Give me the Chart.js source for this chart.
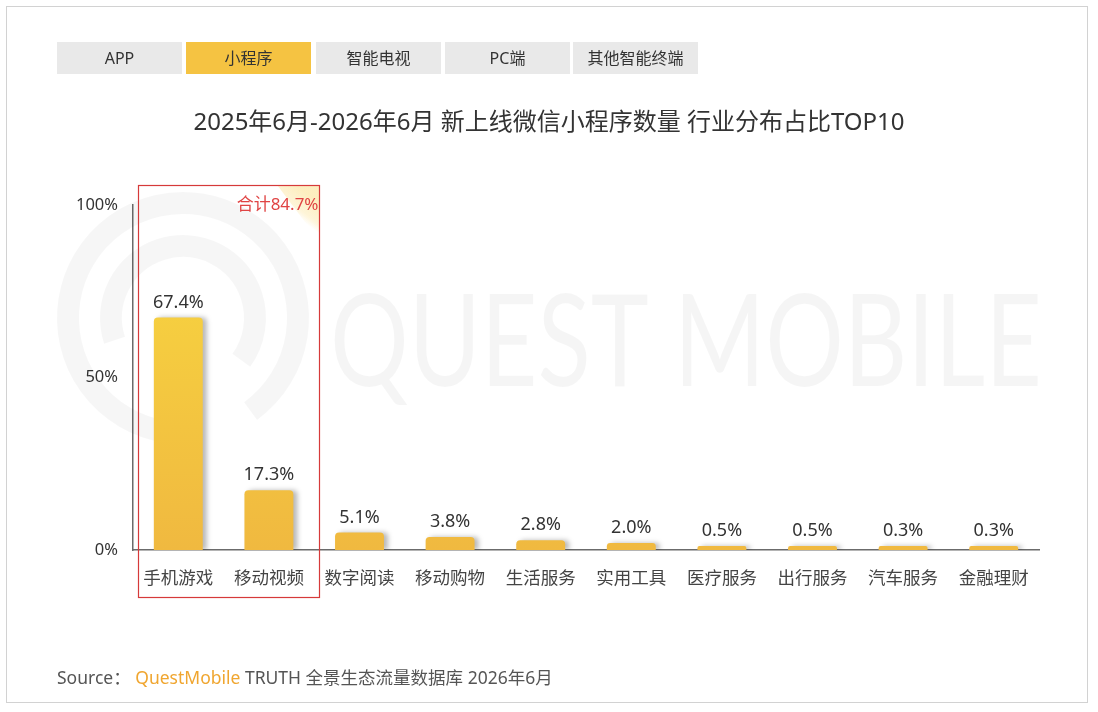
<!DOCTYPE html>
<html><head><meta charset="utf-8">
<script src="https://cdn.jsdelivr.net/npm/chart.js@4/dist/chart.umd.min.js"></script>
<style>
html,body{margin:0;padding:0;background:#fff;width:1098px;height:712px;overflow:hidden;font-family:"Noto Sans","Noto Sans CJK SC",sans-serif;}
#frame{position:absolute;left:6px;top:6px;width:1082px;height:697px;border:1px solid #d2d2d2;box-sizing:border-box;}
#wrap{position:absolute;left:0;top:0;width:1098px;height:712px;}
.tab{position:absolute;top:42px;height:32px;width:125px;background:#e9e9e9;color:#333;font-size:16px;line-height:32px;text-align:center;}
.tab.on{background:#f5c342;}
#title{position:absolute;left:0;width:1098px;top:103px;text-align:center;font-size:24px;color:#333;line-height:36px;}
#src{position:absolute;left:57px;top:664px;font-size:17.5px;color:#555;line-height:26px;white-space:nowrap;}
#src .qm{color:#f0a630;}
</style></head>
<body>
<div id="wrap"><canvas id="c" width="1098" height="712"></canvas></div>
<div id="frame"></div>
<div class="tab" style="left:57px">APP</div>
<div class="tab on" style="left:186px">小程序</div>
<div class="tab" style="left:316px">智能电视</div>
<div class="tab" style="left:445px">PC端</div>
<div class="tab" style="left:573px">其他智能终端</div>
<div id="title">2025年6月-2026年6月 新上线微信小程序数量 行业分布占比TOP10</div>
<div id="src">Source：&nbsp;<span class="qm">QuestMobile</span> TRUTH 全景生态流量数据库 2026年6月</div>
<script>
const categories = ["手机游戏","移动视频","数字阅读","移动购物","生活服务","实用工具","医疗服务","出行服务","汽车服务","金融理财"];
const shares = [67.4,17.3,5.1,3.8,2.8,2.0,0.5,0.5,0.3,0.3];
const yTicks = [0,50,100];
const highlightLabel = "合计84.7%";
const highlightCount = 2;

const FONT = '"Noto Sans","Noto Sans CJK SC",sans-serif';

const watermark = {
  id:'watermark',
  beforeDatasetsDraw(chart){
    const ctx = chart.ctx;
    ctx.save();
    ctx.strokeStyle = 'rgba(0,0,0,0.035)';
    ctx.lineWidth = 22;
    ctx.beginPath(); ctx.arc(183,318,115,Math.PI*0.55,Math.PI*2.3); ctx.stroke();
    ctx.beginPath(); ctx.arc(183,318,72,Math.PI*0.9,Math.PI*2.2); ctx.stroke();
    ctx.fillStyle = 'rgba(0,0,0,0.04)';
    ctx.font = '400 128px Lato, "Noto Sans", sans-serif';
    ctx.textBaseline = 'alphabetic';
    ctx.fillText('QUEST MOBILE', 330, 386, 712);
    ctx.restore();
  }
};

const shadowPlugin = {
  id:'barShadow',
  beforeDatasetDraw(chart){
    const ctx = chart.ctx;
    ctx.save();
    ctx.shadowColor = 'rgba(0,0,0,0.28)';
    ctx.shadowOffsetX = 4;
    ctx.shadowOffsetY = 0;
    ctx.shadowBlur = 5;
  },
  afterDatasetDraw(chart){ chart.ctx.restore(); }
};

const overlay = {
  id:'overlay',
  afterDatasetsDraw(chart){
    const ctx = chart.ctx;
    const meta = chart.getDatasetMeta(0);
    ctx.save();
    ctx.fillStyle = '#333';
    ctx.font = '18px ' + FONT;
    ctx.textAlign = 'center';
    ctx.textBaseline = 'bottom';
    meta.data.forEach((bar,i)=>{
      ctx.fillText(shares[i].toFixed(1)+'%', bar.x, bar.y - 6);
    });
    // highlight box
    const xs = chart.scales.x, ca = chart.chartArea;
    const step = xs.getPixelForValue(1) - xs.getPixelForValue(0);
    const left = Math.round(xs.getPixelForValue(0) - step*0.45) + 0.5;
    const right = Math.round(xs.getPixelForValue(highlightCount-1) + step*0.55) + 0.5;
    const top = ca.top - 19.5, bottom = ca.bottom + 47.5;
    // corner triangle
    const g = ctx.createLinearGradient(right-10, top+10, right-25, top+30);
    g.addColorStop(0,'rgba(252,232,170,0.75)');
    g.addColorStop(0.7,'rgba(252,232,170,0.45)');
    g.addColorStop(1,'rgba(252,232,170,0)');
    ctx.fillStyle = g;
    ctx.beginPath(); ctx.moveTo(right-42, top); ctx.lineTo(right, top); ctx.lineTo(right, top+56); ctx.closePath(); ctx.fill();
    ctx.strokeStyle = '#d63a3a';
    ctx.lineWidth = 1.2;
    ctx.strokeRect(left, top, right-left, bottom-top);
    ctx.fillStyle = '#e04444';
    ctx.font = '17px ' + FONT;
    ctx.textAlign = 'right';
    ctx.textBaseline = 'middle';
    ctx.fillText(highlightLabel, right-1, top+20);
    ctx.restore();
  }
};

new Chart(document.getElementById('c'), {
  type:'bar',
  data:{
    labels:categories,
    datasets:[{
      data:shares,
      backgroundColor(ctx){
        const ca = ctx.chart.chartArea;
        if(!ca) return '#f3c140';
        const g = ctx.chart.ctx.createLinearGradient(0, ca.top+100, 0, ca.bottom);
        g.addColorStop(0,'#f6cf40');
        g.addColorStop(1,'#f0b940');
        return g;
      },
      borderWidth:0,
      borderRadius:{topLeft:4,topRight:4,bottomLeft:0,bottomRight:0},
      borderSkipped:'bottom',
      minBarLength:4,
      barPercentage:0.54,
      categoryPercentage:1.0
    }]
  },
  options:{
    responsive:false,
    animation:false,
    devicePixelRatio:1,
    layout:{padding:{left:0,right:59,top:205,bottom:112}},
    plugins:{legend:{display:false},tooltip:{enabled:false},title:{display:false}},
    scales:{
      x:{
        grid:{display:false,drawTicks:false},
        border:{display:true,color:'#6b6b6b',width:1.5},
        ticks:{color:'#444',font:{size:17.5,family:FONT},padding:19,maxRotation:0},
        afterFit(s){s.height=50;}
      },
      y:{
        min:0,max:100,
        afterBuildTicks(s){s.ticks = yTicks.map(v=>({value:v}));},
        grid:{display:false,drawTicks:false},
        border:{display:true,color:'#6b6b6b',width:1.5},
        ticks:{color:'#333',font:{size:16.5,family:FONT},padding:15,callback:v=>v+'%'},
        afterFit(s){s.width=133;}
      }
    }
  },
  plugins:[watermark,shadowPlugin,overlay]
});
</script>
</body></html>
